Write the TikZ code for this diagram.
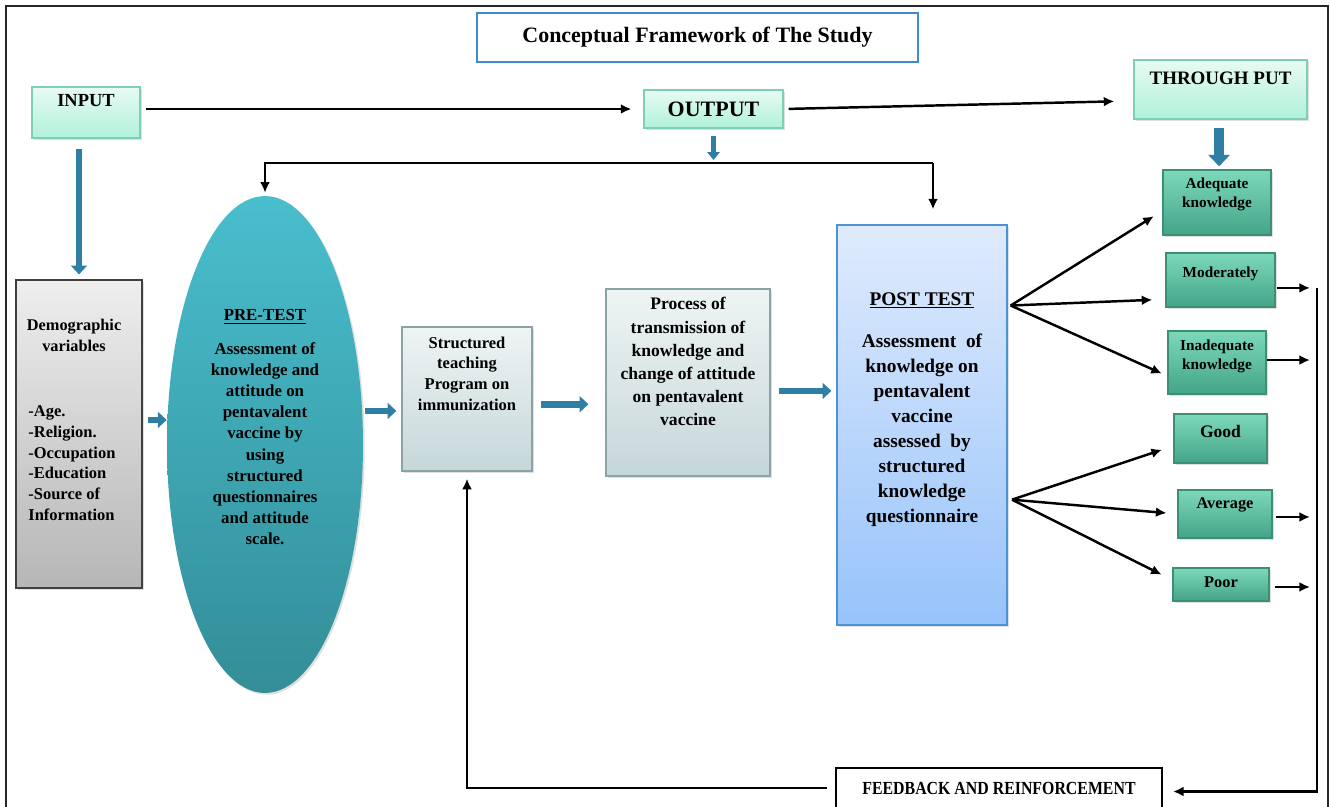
\documentclass[tikz,border=0pt]{standalone}
\usepackage{fontspec}
\setmainfont{Liberation Serif}
\newfontfamily\narrowfont[FakeStretch=0.86]{Liberation Serif}
\usetikzlibrary{arrows.meta,positioning,shadows,shapes.geometric}

\definecolor{mintline}{HTML}{7FCFB5}
\definecolor{minttop}{HTML}{E8FBF3}
\definecolor{mintbot}{HTML}{B0F1DA}
\definecolor{fatblue}{HTML}{2F7EA3}
\definecolor{titleblue}{HTML}{3A8BD0}
\definecolor{demotop}{HTML}{EEEEEE}
\definecolor{demobot}{HTML}{B6B6B6}
\definecolor{ovaltop}{HTML}{49BECD}
\definecolor{ovalbot}{HTML}{338E98}
\definecolor{steeltop}{HTML}{EEF4F4}
\definecolor{steelbot}{HTML}{C6D7D9}
\definecolor{steelline}{HTML}{8AA3A5}
\definecolor{posttop}{HTML}{DFEBFC}
\definecolor{postbot}{HTML}{97C3FB}
\definecolor{postline}{HTML}{4C93D6}
\definecolor{restop}{HTML}{7DD8BB}
\definecolor{resbot}{HTML}{43A487}
\definecolor{resline}{HTML}{3C8E76}

\newcommand\boldsize[2]{\bfseries\fontsize{#1}{#2}\selectfont}

\begin{document}
\begin{tikzpicture}[x=0.02cm, y=-0.02cm, node distance=0pt,
    box/.style = {draw, line width=0.8pt, inner sep=0pt},
    shade/.style = {drop shadow={opacity=0.25, shadow xshift=1pt, shadow yshift=-1pt}},
    mint/.style = {box, draw=mintline, top color=minttop, bottom color=mintbot, shade},
    steel/.style = {box, draw=steelline, top color=steeltop, bottom color=steelbot, shade},
    result/.style = {box, draw=resline, top color=restop, bottom color=resbot, shade},
    oval/.style = {ellipse, inner sep=0pt, top color=ovaltop, bottom color=ovalbot, shade},
    txt/.style = {inner sep=0pt, align=center},
    arr/.style = {line width=1.4pt, -{Latex[length=6pt, width=5.6pt]}},
    fat/.style = {draw=fatblue, line width=3.8pt, -{Triangle[width=9pt, length=5pt]}}]
\useasboundingbox (0,0) rectangle (1330,807);
\clip (0,0) rectangle (1330,807);
\draw[line width=0.9pt, black!85] (6,812) -- (6,6) -- (1328,6) -- (1328,812);

\node[box, draw=titleblue, line width=1.3pt, fill=white, minimum width=8.82cm, minimum height=0.98cm,
      font=\boldsize{12.5}{14}] (title) at (697.5,37.5) {Conceptual Framework of The Study};

\node[mint, minimum width=2.16cm, minimum height=1.02cm] (input) at (86,112.5) {};
\node[txt, font=\boldsize{10.5}{12}, below=4.5pt of input.north] (input-t) {INPUT};
\node[mint, minimum width=2.78cm, minimum height=0.76cm, font=\boldsize{12.5}{14}] (output) at (713.5,109) {OUTPUT};
\node[mint, minimum width=3.46cm, minimum height=1.18cm] (thru) at (1220.5,89.5) {};
\node[txt, font=\boldsize{10.8}{12}, below=6.8pt of thru.north] (thru-t) {THROUGH PUT};

\node[box, draw=black!75, top color=demotop, bottom color=demobot, shade,
      minimum width=2.52cm, minimum height=6.16cm] (demo) at (79,434) {};
\node[txt, font=\boldsize{9.3}{12}, below=22.7pt of demo.north, xshift=-2.8pt] (demo-t) {Demographic\\variables};
\node[txt, align=left, anchor=north west, font=\boldsize{9.4}{11.9}] (demo-l) at (28,405)
     {-Age.\\-Religion.\\-Occupation\\-Education\\-Source of\\Information};

\node[oval, minimum width=3.92cm, minimum height=9.94cm] (pretest) at (265,444.5) {};
\node[txt, font=\boldsize{9.6}{12}, below=64.6pt of pretest.north] (pretest-t)
     {\underline{PRE-TEST}\\[7.3pt]Assessment of\\knowledge and\\attitude on\\pentavalent\\vaccine by\\using\\structured\\questionnaires\\and attitude\\scale.};

\node[steel, minimum width=2.6cm, minimum height=2.88cm] (stp) at (467,399) {};
\node[txt, font=\boldsize{9.4}{11.8}, below=5.7pt of stp.north] (stp-t) {Structured\\teaching\\Program on\\immunization};
\node[steel, minimum width=3.28cm, minimum height=3.74cm] (proc) at (688,382.5) {};
\node[txt, font=\boldsize{10}{13.2}, below=5pt of proc.north] (proc-t)
     {Process of\\transmission of\\knowledge and\\change of attitude\\on pentavalent\\vaccine};

\node[box, draw=postline, top color=posttop, bottom color=postbot, shade,
      minimum width=3.4cm, minimum height=8cm] (post) at (922,425) {};
\node[txt, font=\boldsize{11}{14.3}, below=38.5pt of post.north] (post-t)
     {\underline{POST TEST}\\[9.6pt]Assessment\ \ of\\knowledge on\\pentavalent\\vaccine\\assessed\ \ by\\structured\\knowledge\\questionnaire};

\node[result, minimum width=2.16cm, minimum height=1.3cm] (adeq) at (1217,202.5) {};
\node[txt, font=\boldsize{8.7}{10.8}, below=4.5pt of adeq.north] (adeq-t) {Adequate\\knowledge};
\node[result, minimum width=2.18cm, minimum height=1.08cm] (mod) at (1220.5,280) {};
\node[txt, font=\boldsize{8.7}{10.8}, below=8pt of mod.north] (mod-t) {Moderately};
\node[result, minimum width=1.96cm, minimum height=1.26cm] (inadeq) at (1217,362.5) {};
\node[txt, font=\boldsize{8.7}{10.8}, below=5pt of inadeq.north] (inadeq-t) {Inadequate\\knowledge};
\node[result, minimum width=1.86cm, minimum height=0.98cm] (good) at (1220.5,438.5) {};
\node[txt, font=\boldsize{10}{12}, below=6.8pt of good.north] (good-t) {Good};
\node[result, minimum width=1.88cm, minimum height=0.96cm] (avg) at (1225,514) {};
\node[txt, font=\boldsize{9.3}{11}, below=4.5pt of avg.north] (avg-t) {Average};
\node[result, minimum width=1.92cm, minimum height=0.66cm] (poor) at (1221,584.5) {};
\node[txt, font=\boldsize{9.3}{11}, below=5pt of poor.north] (poor-t) {Poor};

\node[box, line width=1.2pt, fill=white, minimum width=6.52cm, minimum height=0.8cm,
      font=\narrowfont\boldsize{10.5}{12}] (fb) at (999,788) {FEEDBACK AND REINFORCEMENT};

\coordinate (lt) at (265,163);
\coordinate (rt) at (933,163);
\coordinate (rail) at (1317,288);
\coordinate (f1) at ([xshift=1.7pt, yshift=68pt]post.east);
\coordinate (f2) at ([xshift=2.5pt, yshift=-42.5pt]post.east);
\coordinate (d1) at ([yshift=8pt]demo.east);
\coordinate (p1) at ([yshift=-6.8pt]stp.west);
\coordinate (s1) at ([yshift=-3pt]stp.east);
\coordinate (c1) at ([yshift=-4.8pt]proc.east);
\coordinate (t1) at ([xshift=-0.8pt]thru.south);
\coordinate (m1) at ([yshift=-4.5pt]mod.east);
\coordinate (m2) at ([yshift=1.4pt]inadeq.east);
\coordinate (m3) at ([yshift=-1.7pt]avg.east);
\coordinate (m4) at ([yshift=-1.4pt]poor.east);

\draw[fat, shorten <=6pt, shorten >=2.8pt] (input.south -| demo.north) -- (demo.north);
\draw[fat, shorten <=2.8pt] (d1) -- (d1 -| pretest.west);
\draw[fat, shorten <=1pt, shorten >=2.8pt] (p1 -| pretest.east) -- (p1);
\draw[fat, shorten <=4.5pt, shorten >=9.6pt] (s1) -- (s1 -| proc.west);
\draw[fat, shorten <=5pt, shorten >=2.8pt] (c1) -- (c1 -| post.west);
\draw[fat, line width=5.5pt, -{Triangle[width=12pt, length=6.5pt]}, shorten <=4.5pt, shorten >=1.7pt]
     (t1) -- (t1 |- adeq.north);
\draw[fat, line width=3pt, -{Triangle[width=7pt, length=4.5pt]}, shorten <=4pt, shorten >=1.7pt]
     (output.south) -- (output.south |- lt);

\draw[arr, shorten <=2.8pt, shorten >=6.8pt] (input.east |- output.west) -- (output.west);
\draw[arr, shorten <=2.8pt, shorten >=10.8pt] (output.east) -- ([yshift=-6.5pt]thru.west);
\draw[arr, shorten >=1.7pt] (rt) -- (lt) -- (pretest.north);
\draw[arr, shorten >=8.5pt] (rt) -- (rt |- post.north);

\path[arr]
(f1) edge[shorten >=5.7pt] ([yshift=-4.8pt]adeq.west)
(f1) edge[shorten >=7.4pt] ([yshift=-11pt]mod.west)
(f1) edge[shorten >=3.4pt] ([yshift=-7.7pt]inadeq.west)
(f2) edge[shorten >=6.8pt] ([yshift=-4.25pt]good.west)
(f2) edge[shorten >=6.2pt] (avg.west)
(f2) edge[shorten >=6.8pt] ([yshift=2.55pt]poor.west);

\path[arr]
(m1) edge[shorten <=0.5pt, shorten >=4pt] (m1 -| rail)
(m2) edge[shorten >=4pt] (m2 -| rail)
(m3) edge[shorten <=1.7pt, shorten >=4pt] (m3 -| rail)
(m4) edge[shorten <=2.8pt, shorten >=4pt] (m4 -| rail);

\draw[arr, shorten >=5.7pt] (rail) -- ([yshift=-2pt]rail |- fb.east) -- ([yshift=-2pt]fb.east);
\draw[arr, shorten <=4.5pt, shorten >=4pt] (fb.west) -- (fb.west -| stp.south) -- (stp.south);
\end{tikzpicture}
\end{document}
